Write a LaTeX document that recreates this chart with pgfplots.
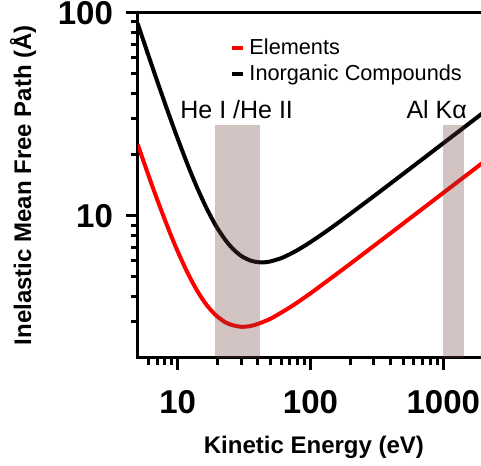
\documentclass[border=0pt]{standalone}
\usepackage{pgfplots}
\pgfplotsset{compat=1.18}
\usepackage{fontspec}
\setmainfont{Liberation Sans}
\definecolor{band}{RGB}{110,60,60}
\definecolor{redline}{RGB}{255,0,0}

\pgfplotstableread{
E lam
5 22.44
6 15.95
7 12.06
8 9.57
9 7.87
10 6.68
12 5.16
14 4.28
16 3.74
18 3.40
20 3.18
23 2.98
26 2.89
30 2.84
35 2.86
40 2.93
45 3.02
50 3.11
60 3.33
70 3.54
80 3.75
100 4.15
130 4.71
160 5.21
200 5.81
300 7.11
400 8.20
500 9.17
700 10.85
1000 12.97
1400 15.34
2000 18.34
}\elements

\pgfplotstableread{
E lam
5 88.41
6 62.04
7 46.19
8 35.94
9 28.95
10 23.98
12 17.56
14 13.77
16 11.36
18 9.75
20 8.64
23 7.56
26 6.88
30 6.35
35 6.03
40 5.91
45 5.90
50 5.96
60 6.18
70 6.47
80 6.78
100 7.42
130 8.34
160 9.19
200 10.24
300 12.49
400 14.41
500 16.11
700 19.05
1000 22.77
1400 26.94
2000 32.20
}\inorganic

\begin{document}
\begin{tikzpicture}
\begin{axis}[
  name=ax,
  at={(0,0)}, anchor=south west,
  scale only axis,
  width=172.8pt, height=172.5pt,
  xmode=log, ymode=log,
  xmin=5, xmax=2000, ymin=2, ymax=100,
  axis line style={line width=1.65pt},
  tick align=outside,
  tick pos=left,
  major tick length=6pt,
  minor tick length=3.5pt,
  every tick/.style={line width=1.5pt, black},
  xtick={10,100,1000}, xticklabels={10,100,1000},
  minor xtick={6,7,8,9,20,30,40,50,60,70,80,90,200,300,400,500,600,700,800,900},
  ytick={10,100}, yticklabels={10,100},
  minor ytick={3,4,5,6,7,8,9,20,30,40,50,60,70,80,90},
  tick label style={font=\fontsize{16.5}{16.5}\selectfont\bfseries},
  xticklabel style={yshift=-7pt},
  yticklabel style={xshift=-2.85pt},
  xlabel={Kinetic Energy (eV)},
  ylabel={Inelastic Mean Free Path (Å)},
  label style={font=\fontsize{12}{14}\selectfont\bfseries},
  xlabel style={at={(axis description cs:0.51,-0.259)}, anchor=center},
  ylabel style={at={(axis description cs:-0.332,0.5)}, anchor=center},
  legend style={draw=none, fill=none, at={(axis description cs:0.25,0.95)}, anchor=north west,
    font=\fontsize{10.85}{13}\selectfont, row sep=0pt},
  legend cell align=left,
  legend image code/.code={\draw[#1, line width=2pt] (0pt,0pt) -- (5.5pt,0pt);},
]
\addplot[redline, line width=2pt, smooth, line join=round] table[x=E, y=lam] {\elements};
\addlegendentry{Elements}
\addplot[black, line width=2pt, smooth, line join=round] table[x=E, y=lam] {\inorganic};
\addlegendentry{Inorganic Compounds}
\addplot[draw=none, fill=band, fill opacity=0.3, forget plot] coordinates {(19,2) (19,28) (42,28) (42,2)} -- cycle;
\addplot[draw=none, fill=band, fill opacity=0.3, forget plot] coordinates {(1000,2) (1000,28) (1420,28) (1420,2)} -- cycle;
\node[font=\fontsize{12.5}{14}\selectfont] at (axis cs:27.8,33.2) {He I /He II};
\node[font=\fontsize{12.5}{14}\selectfont] at (axis cs:891,33.2) {Al K\symbol{"03B1}};
\end{axis}
\pgfresetboundingbox
\path ([xshift=-68.85pt,yshift=-53.65pt]ax.south west) rectangle ([xshift=171.65pt,yshift=178.85pt]ax.south west);
\end{tikzpicture}
\end{document}
